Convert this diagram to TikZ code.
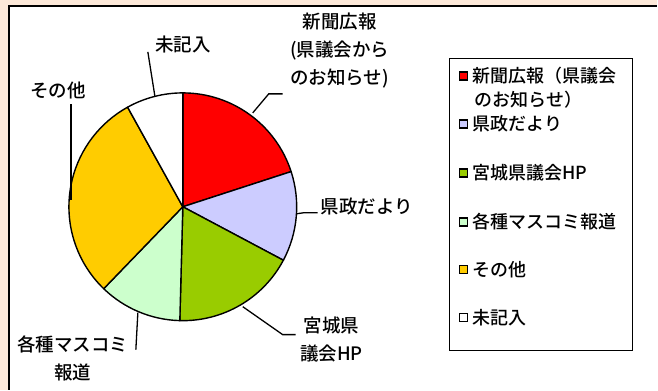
\documentclass[tikz,border=0pt]{standalone}
\usepackage{fontspec}
\setmainfont{Noto Sans CJK JP}[UprightFont=* Medium]
\definecolor{pieRed}{HTML}{FF0000}
\definecolor{pieLav}{HTML}{CCCCFF}
\definecolor{pieGreen}{HTML}{99CC00}
\definecolor{pieMint}{HTML}{CCFFCC}
\definecolor{pieGold}{HTML}{FFCC00}
\definecolor{bgPeach}{HTML}{FDE9D9}
\begin{document}
\begin{tikzpicture}[
    x=1pt, y=1pt,
    slice/.style={draw, line width=1.4pt, line join=round},
    leader/.style={draw, line width=1.3pt},
    label/.style={inner sep=0pt, align=center, font=\fontsize{18.5}{28}\selectfont},
    legtext/.style={inner sep=0pt, anchor=west, font=\fontsize{18}{24}\selectfont},
    marker/.style={rectangle, draw, line width=1.5pt, minimum size=8pt, inner sep=0pt}
]
    % frame
    \fill[bgPeach] (0,0) rectangle (658,390);
    \fill[white] (9,0) rectangle (658,384);
    \draw[line width=1.4pt] (9,0) -- (9,384) -- (658,384);
    \useasboundingbox (0,0) rectangle (658,390);

    % pie
    \coordinate (pc) at (183,183);
    \foreach \a/\b/\c in {90/18/pieRed, 18/-28/pieLav, -28/-91.5/pieGreen,
                          -91.5/-134/pieMint, -134/-241/pieGold, -241/-270/white}
        \filldraw[slice, fill=\c] (pc) -- ++(\a:114pt) arc[start angle=\a, end angle=\b, radius=114pt] -- cycle;

    % labels
    \node[label] (lmiki) at (183,345) {未記入};
    \node[label] (lsono) at (58,299) {その他};
    \node[label] (lshin) at (340,339) {新聞広報\\(県議会から\\のお知らせ)};
    \node[label, anchor=west] (lken) at (321,183) {県政だより};
    \node[label] (lmiya) at (332,50) {宮城県\\議会HP};
    \node[label] (lkaku) at (73,31.5) {各種マスコミ\\報道};

    \coordinate (miki1) at (155,294);  \coordinate (miki2) at (148,338);
    \coordinate (sono1) at (71,190);   \coordinate (sono2) at (71,286);
    \coordinate (shin1) at (253,277);  \coordinate (shin2) at (269,296);
    \coordinate (shin3) at (283,296);
    \coordinate (ken1) at (297,176);   \coordinate (ken2) at (304,177);
    \coordinate (ken3) at (318,177);
    \coordinate (miya1) at (243,83);   \coordinate (miya2) at (283,55);
    \coordinate (miya3) at (296,55);
    \coordinate (kaku1) at (138,77);   \coordinate (kaku2) at (136,40);

    \draw[leader] (miki1) -- (miki2);
    \draw[leader] (sono1) -- (sono2);
    \draw[leader] (shin1) -- (shin2) -- (shin3);
    \draw[leader] (ken1) -- (ken2) -- (ken3);
    \draw[leader] (miya1) -- (miya2) -- (miya3);
    \draw[leader] (kaku1) -- (kaku2);

    % legend
    \node[draw, line width=0.8pt, minimum width=184pt, minimum height=292pt, anchor=south west] (legend) at (449,39) {};
    \node[marker, fill=pieRed] (mk1) at (464,314) {};
    \node[marker, fill=pieLav] (mk2) at (464,266) {};
    \node[marker, fill=pieGreen] (mk3) at (464,217) {};
    \node[marker, fill=pieMint] (mk4) at (464,168) {};
    \node[marker, fill=pieGold] (mk5) at (464,120) {};
    \node[marker, fill=white] (mk6) at (464,72) {};
    \node[legtext] (lg1) at (473,314) {新聞広報（県議会};
    \node[legtext] (lg1b) at (475,290) {のお知らせ）};
    \node[legtext] (lg2) at (473,266) {県政だより};
    \node[legtext] (lg3) at (473,217) {宮城県議会HP};
    \node[legtext] (lg4) at (473,168) {各種マスコミ報道};
    \node[legtext] (lg5) at (473,120) {その他};
    \node[legtext] (lg6) at (473,72) {未記入};
\end{tikzpicture}
\end{document}
